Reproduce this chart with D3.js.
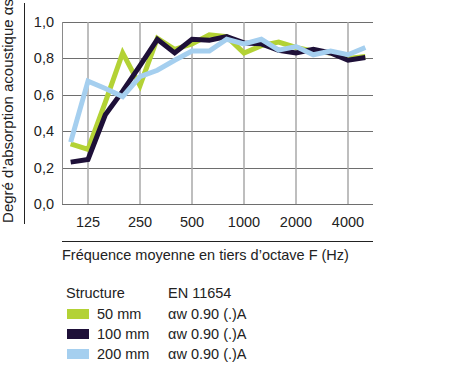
<!DOCTYPE html>
<html><head><meta charset="utf-8">
<script src="https://cdn.jsdelivr.net/npm/d3@7"></script>
<style>
html,body{margin:0;padding:0;background:#fff;}
svg{display:block;font-family:"Liberation Sans",Arial,sans-serif;}
</style></head>
<body>
<svg id="chart" width="462" height="366"></svg>
<script>
const frequencies = [100,125,160,200,250,315,400,500,630,800,1000,1250,1600,2000,2500,3150,4000,5000];
const tickFrequencies = [125,250,500,1000,2000,4000];
const yTicks = [0,0.2,0.4,0.6,0.8,1.0];
const seriesNames = ["50 mm","100 mm","200 mm"];
const seriesRatings = ["αw 0.90 (.)A","αw 0.90 (.)A","αw 0.90 (.)A"];
const seriesColors = ["#b3d235","#1e1038","#a5cfef"];
const values50 = [0.33,0.30,0.56,0.83,0.65,0.91,0.85,0.88,0.93,0.92,0.83,0.87,0.89,0.86,0.84,0.83,0.80,0.81];
const values100 = [0.23,0.245,0.49,0.62,0.76,0.905,0.83,0.905,0.90,0.92,0.885,0.88,0.845,0.83,0.85,0.83,0.79,0.805];
const values200 = [0.34,0.675,0.635,0.59,0.70,0.735,0.79,0.84,0.84,0.905,0.88,0.905,0.845,0.865,0.82,0.84,0.82,0.86];
const allSeries = [values50, values100, values200];

const svg = d3.select("#chart");
const x = d3.scaleLinear().domain([-0.5, frequencies.length - 0.5]).range([62, 374]);
const y = d3.scaleLinear().domain([0, 1]).range([204, 22]);
const xi = f => x(frequencies.indexOf(f));

// horizontal grid
svg.append("g").selectAll("line").data(yTicks).join("line")
  .attr("x1", 62).attr("x2", 373)
  .attr("y1", d => Math.round(y(d)) + 0.5).attr("y2", d => Math.round(y(d)) + 0.5)
  .attr("stroke", "#6e6e6e").attr("stroke-width", 1);
// vertical grid
svg.append("g").selectAll("line").data(tickFrequencies).join("line")
  .attr("x1", d => xi(d)).attr("x2", d => xi(d))
  .attr("y1", y(1)).attr("y2", y(0))
  .attr("stroke", "#a8a8a8").attr("stroke-width", 1.5);
// left axis line
svg.append("line").attr("x1", 62.5).attr("x2", 62.5).attr("y1", y(1)).attr("y2", y(0))
  .attr("stroke", "#8a8a8a").attr("stroke-width", 1);

// y tick labels
svg.append("g").selectAll("text").data(yTicks).join("text")
  .attr("x", 54).attr("y", d => y(d) + 5)
  .attr("text-anchor", "end").attr("font-size", "14.5px").attr("fill", "#222")
  .text(d => d3.format(".1f")(d).replace(".", ","));

// x tick labels
svg.append("g").selectAll("text").data(tickFrequencies).join("text")
  .attr("x", d => xi(d)).attr("y", 226.5)
  .attr("text-anchor", "middle").attr("font-size", "14.5px").attr("fill", "#222")
  .text(d => d);

// lines
const line = d3.line().x((d, i) => x(i)).y(d => y(d)).curve(d3.curveLinear);
svg.append("g").selectAll("path").data(allSeries).join("path")
  .attr("d", line).attr("fill", "none")
  .attr("stroke", (d, i) => seriesColors[i]).attr("stroke-width", 5)
  .attr("stroke-linejoin", "miter").attr("stroke-linecap", "butt");

// y title
svg.append("line").attr("x1", 24.5).attr("x2", 24.5).attr("y1", 3).attr("y2", 224)
  .attr("stroke", "#222").attr("stroke-width", 1);
svg.append("text").attr("transform", "translate(12.5,111) rotate(-90)")
  .attr("text-anchor", "middle").attr("font-size", "15px").attr("fill", "#222")
  .text("Degré d’absorption acoustique αs");

// x title
svg.append("line").attr("x1", 62).attr("x2", 373).attr("y1", 241.5).attr("y2", 241.5)
  .attr("stroke", "#222").attr("stroke-width", 1);
svg.append("text").attr("x", 62).attr("y", 260)
  .attr("font-size", "14.5px").attr("fill", "#222")
  .text("Fréquence moyenne en tiers d’octave F (Hz)");

// legend
svg.append("text").attr("x", 66).attr("y", 298).attr("font-size", "14.5px").attr("fill", "#222").text("Structure");
svg.append("text").attr("x", 168).attr("y", 298).attr("font-size", "14.5px").attr("fill", "#222").text("EN 11654");
const lg = svg.append("g").selectAll("g").data(seriesNames).join("g")
  .attr("transform", (d, i) => `translate(0,${309 + i * 20})`);
lg.append("rect").attr("x", 67).attr("y", 0).attr("width", 22).attr("height", 10)
  .attr("fill", (d, i) => seriesColors[i]);
lg.append("text").attr("x", 97).attr("y", 10).attr("font-size", "14.5px").attr("fill", "#222").text(d => d);
lg.append("text").attr("x", 168).attr("y", 10).attr("font-size", "14.5px").attr("fill", "#222").text((d, i) => seriesRatings[i]);
</script>
</body></html>
